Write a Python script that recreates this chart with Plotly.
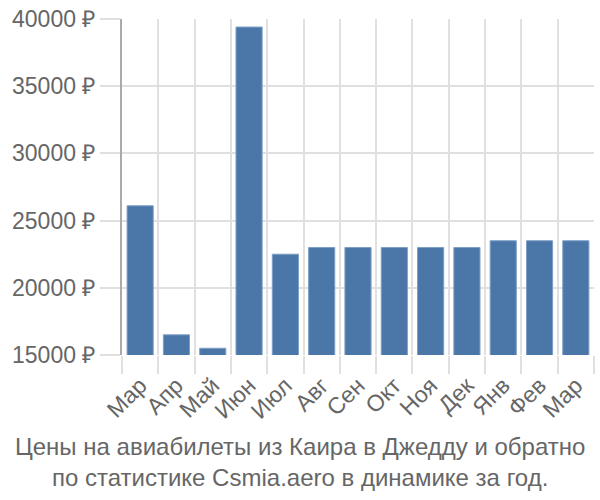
import plotly.graph_objects as go

months = ["Мар", "Апр", "Май", "Июн", "Июл", "Авг", "Сен", "Окт", "Ноя", "Дек", "Янв", "Фев", "Мар"]
prices = [26100, 16500, 15500, 39400, 22500, 23000, 23000, 23000, 23000, 23000, 23500, 23500, 23500]
y_ticks = [15000, 20000, 25000, 30000, 35000, 40000]
y_labels = ["15000 ₽", "20000 ₽", "25000 ₽", "30000 ₽", "35000 ₽", "40000 ₽"]
title_lines = ["Цены на авиабилеты из Каира в Джедду и обратно",
               "по статистике Csmia.aero в динамике за год."]

idx = list(range(len(months)))
font = "Liberation Sans, Arial, sans-serif"
grid = "#e0e0e0"
txt = "#666666"

fig = go.Figure(go.Bar(
    x=idx, y=prices,
    marker=dict(color="#4a76a8", line=dict(color="#7d9fc6", width=1)),
    width=0.72,
))

fig.update_layout(
    width=600, height=500,
    margin=dict(l=122, r=6, t=15, b=145),
    paper_bgcolor="white", plot_bgcolor="white",
    showlegend=False,
    font=dict(family=font, color=txt),
    xaxis=dict(
        range=[-0.5, len(months) - 0.5],
        tickmode="array", tickvals=idx, ticktext=months,
        tickangle=-45, tickfont=dict(size=23, color=txt, family=font),
        showgrid=False, zeroline=False,
        ticks="outside", ticklen=7, tickcolor="rgba(0,0,0,0)",
        minor=dict(tickmode="array", tickvals=[i - 0.5 for i in range(len(months) + 1)],
                   showgrid=True, gridcolor=grid, gridwidth=2,
                   ticks="outside", ticklen=18, tickcolor=grid, tickwidth=2),
        showline=False,
    ),
    yaxis=dict(
        range=[15000, 40000],
        tickmode="array", tickvals=y_ticks, ticktext=y_labels,
        tickfont=dict(size=23, color=txt, family=font),
        showgrid=True, gridcolor=grid, gridwidth=2,
        ticks="outside", ticklen=20, tickcolor=grid, tickwidth=2,
        showline=True, linecolor="#aaaaaa", linewidth=2,
        zeroline=False,
    ),
    annotations=[dict(
        text="<br>".join(title_lines),
        xref="paper", yref="paper", x=0.5, y=0, xanchor="center", yanchor="top",
        xshift=-58, yshift=-76,
        showarrow=False, font=dict(size=24, color=txt, family=font),
        align="center",
    )],
)

fig.write_html("out.html")
